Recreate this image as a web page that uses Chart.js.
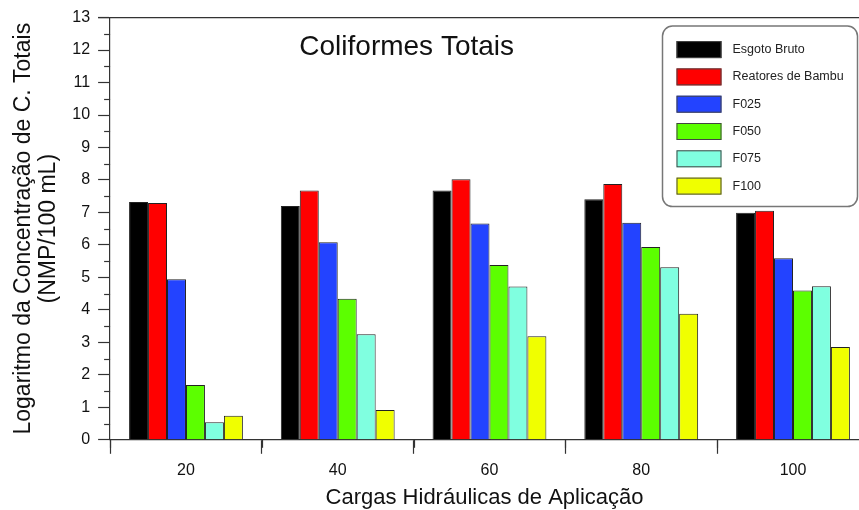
<!DOCTYPE html>
<html>
<head>
<meta charset="utf-8">
<script src="https://cdn.jsdelivr.net/npm/chart.js@4"></script>
<style>
  html, body { margin: 0; padding: 0; background: #ffffff; overflow: hidden; }
  #wrap { width: 859px; height: 510px; position: relative; }
</style>
</head>
<body>
<div id="wrap"><canvas id="c" width="859" height="510"></canvas></div>
<script>
// ---- data ----
const categories = [20, 40, 60, 80, 100];
const seriesNames = ['Esgoto Bruto', 'Reatores de Bambu', 'F025', 'F050', 'F075', 'F100'];
const esgotoBruto   = [7.32, 7.20, 7.68, 7.41, 6.99];
const reatoresBambu = [7.29, 7.68, 8.02, 7.88, 7.05];
const f025          = [4.94, 6.08, 6.66, 6.68, 5.59];
const f050          = [1.69, 4.34, 5.38, 5.94, 4.60];
const f075          = [0.54, 3.25, 4.72, 5.31, 4.73];
const f100          = [0.74, 0.92, 3.19, 3.88, 2.86];
const chartTitle = 'Coliformes Totais';
const yTitle = ['Logaritmo da Concentração de C. Totais', '(NMP/100 mL)'];
const xTitle = 'Cargas Hidráulicas de Aplicação';

const seriesValues = [esgotoBruto, reatoresBambu, f025, f050, f075, f100];
const colors = ['#000000', '#ff0000', '#2343ff', '#5cff00', '#80ffe0', '#f0ff00'];
const FONT = '"Liberation Sans", Arial, sans-serif';

const decor = {
  id: 'decor',
  afterDraw(chart) {
    const ctx = chart.ctx;
    const {left, right, top, bottom} = chart.chartArea;
    const xs = chart.scales.x, ys = chart.scales.y;
    ctx.save();
    ctx.strokeStyle = '#333';
    ctx.lineWidth = 1.2;
    // top frame line
    ctx.beginPath(); ctx.moveTo(left - 12, top); ctx.lineTo(right, top); ctx.stroke();
    // minor ticks on y
    for (let v = 0.5; v < ys.max; v += 1) {
      const py = Math.round(ys.getPixelForValue(v)) + 0.5;
      ctx.beginPath(); ctx.moveTo(left - 6, py); ctx.lineTo(left, py); ctx.stroke();
    }
    // minor ticks on x
    for (let v = xs.min; v <= xs.max; v += 20) {
      const px = Math.round(xs.getPixelForValue(v)) + 0.5;
      ctx.beginPath(); ctx.moveTo(px, bottom); ctx.lineTo(px, bottom + 8); ctx.stroke();
    }
    // title inside plot
    ctx.fillStyle = '#111';
    ctx.font = '28px ' + FONT;
    ctx.textAlign = 'center';
    ctx.textBaseline = 'middle';
    ctx.fillText(chartTitle, left + (right - left) * 0.396, top + 30);
    // legend box
    const bR = right - 1.5, bL = bR - 195, bT = top + 8.5, bB = top + 189;
    const r = 10;
    ctx.strokeStyle = '#777';
    ctx.lineWidth = 1.5;
    ctx.fillStyle = '#ffffff';
    ctx.beginPath();
    ctx.moveTo(bL + r, bT);
    ctx.lineTo(bR - r, bT); ctx.arcTo(bR, bT, bR, bT + r, r);
    ctx.lineTo(bR, bB - r); ctx.arcTo(bR, bB, bR - r, bB, r);
    ctx.lineTo(bL + r, bB); ctx.arcTo(bL, bB, bL, bB - r, r);
    ctx.lineTo(bL, bT + r); ctx.arcTo(bL, bT, bL + r, bT, r);
    ctx.closePath(); ctx.fill(); ctx.stroke();
    ctx.font = '12.5px ' + FONT;
    ctx.textAlign = 'left';
    chart.data.datasets.forEach((ds, i) => {
      const cy = top + 32 + i * 27.3;
      ctx.fillStyle = ds.backgroundColor;
      ctx.fillRect(bL + 14, cy - 8.5, 45, 17);
      ctx.strokeStyle = '#444'; ctx.lineWidth = 1;
      ctx.strokeRect(bL + 14.5, cy - 8, 44, 16);
      ctx.fillStyle = '#222';
      ctx.fillText(ds.label, bL + 70, cy);
    });
    ctx.restore();
  }
};

new Chart(document.getElementById('c'), {
  type: 'bar',
  data: {
    labels: categories,
    datasets: seriesNames.map((name, i) => ({
      label: name,
      data: seriesValues[i],
      backgroundColor: colors[i],
      borderColor: '#222',
      borderWidth: 1,
      categoryPercentage: 0.75,
      barPercentage: 1.0
    }))
  },
  options: {
    responsive: false,
    animation: false,
    devicePixelRatio: 1,
    layout: { padding: { left: 10, right: 0, top: 7, bottom: 1 } },
    plugins: { legend: { display: false }, tooltip: { enabled: false }, title: { display: false } },
    scales: {
      x: {
        type: 'linear',
        min: 10,
        max: 108.7,
        offset: false,
        grid: { drawOnChartArea: false, tickLength: 14, tickColor: '#333', tickWidth: 1.2 },
        border: { color: '#333', width: 1.2 },
        ticks: { stepSize: 20, includeBounds: false, padding: 7, color: '#111', font: { family: FONT, size: 16 } },
        title: { display: true, text: xTitle, color: '#111', font: { family: FONT, size: 22, lineHeight: 1.0 }, padding: { top: 0, bottom: 0 } }
      },
      y: {
        min: 0,
        max: 13,
        grid: { drawOnChartArea: false, tickLength: 12, tickColor: '#333', tickWidth: 1.2 },
        border: { color: '#333', width: 1.2 },
        ticks: { stepSize: 1, padding: 8, color: '#111', font: { family: FONT, size: 16 } },
        title: { display: true, text: yTitle, color: '#111', font: { family: FONT, size: 23, lineHeight: 1.05 }, padding: { top: 2, bottom: 4 } }
      }
    }
  },
  plugins: [decor]
});
</script>
</body>
</html>
